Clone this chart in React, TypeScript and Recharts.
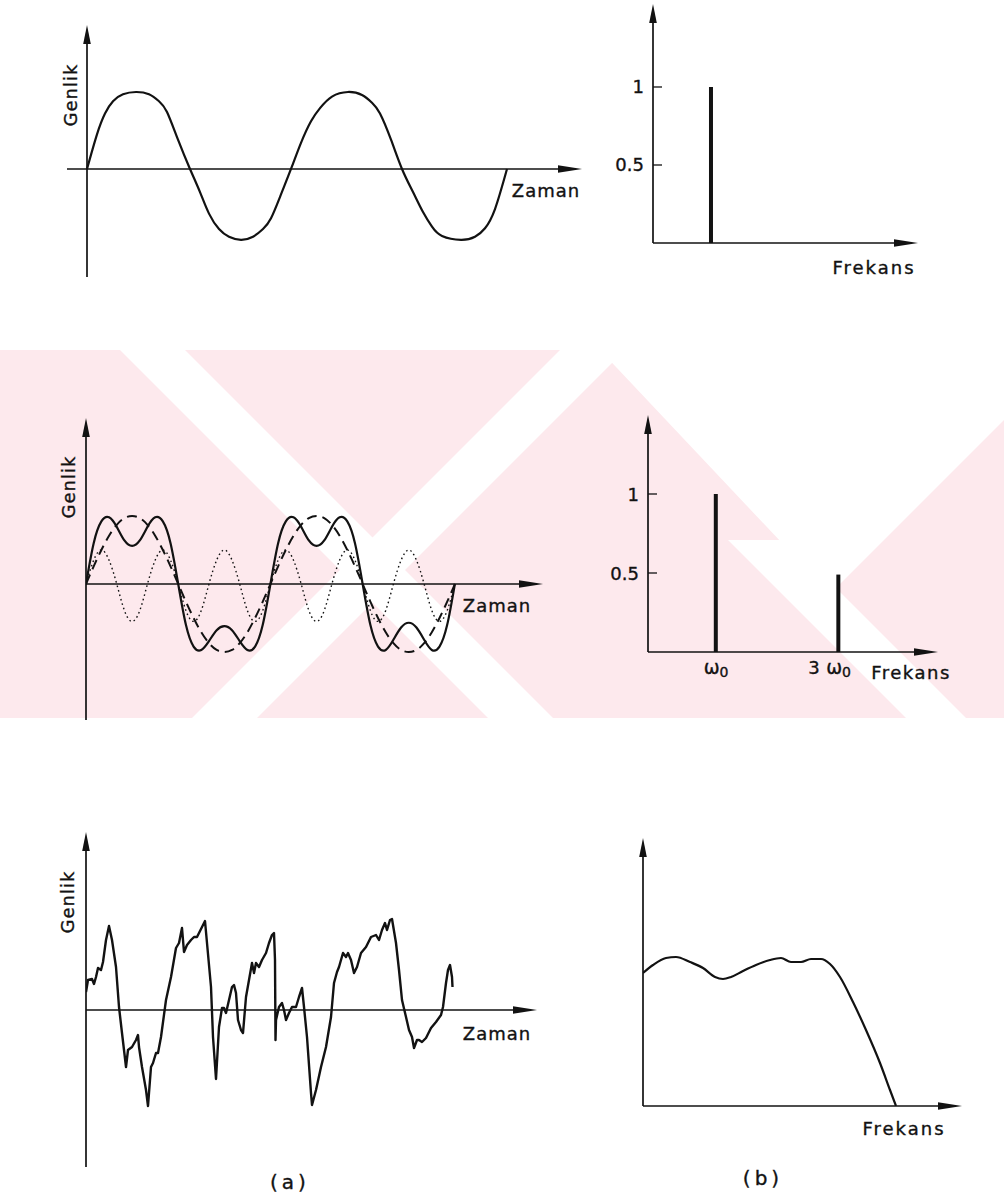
import React from "react";
import { ComposedChart, Line, Bar, XAxis, YAxis, ReferenceLine } from "recharts";

const INK = "#121212";
const FONT = "'DejaVu Sans', 'Liberation Sans', sans-serif";

// top left: a pure sine, time in drawing units, amplitude relative to the peak
const sineTime = [0, 10, 18, 26, 36, 49, 62, 72, 80, 91, 103, 113, 122, 132, 142, 154, 166, 176, 184, 194, 204, 214, 224, 233, 245, 261, 275, 285, 293, 304, 315, 326, 336, 345, 355, 374, 388, 398, 408, 420];
const sineAmp = [0, 0.45, 0.72, 0.88, 0.97, 1.0, 0.97, 0.88, 0.74, 0.38, 0, -0.3, -0.58, -0.78, -0.88, -0.92, -0.88, -0.78, -0.64, -0.33, 0, 0.34, 0.62, 0.79, 0.94, 1.0, 0.96, 0.86, 0.72, 0.38, 0, -0.3, -0.56, -0.75, -0.87, -0.92, -0.88, -0.77, -0.52, 0];

// middle left: phase of the fundamental in degrees
const phaseDeg = [0, 15, 30, 45, 60, 75, 90, 105, 120, 135, 150, 165, 180, 195, 210, 225, 240, 255, 270, 285, 300, 315, 330, 345, 360, 375, 390, 405, 420, 435, 450, 465, 480, 495, 510, 525, 540, 555, 570, 585, 600, 615, 630, 645, 660, 675, 690, 705, 720];
const sumWave = [0, 0.6, 0.92, 0.98, 0.84, 0.64, 0.56, 0.64, 0.84, 0.98, 0.92, 0.6, 0, -0.6, -0.92, -0.97, -0.84, -0.68, -0.62, -0.68, -0.84, -0.97, -0.92, -0.6, 0, 0.6, 0.92, 0.98, 0.84, 0.64, 0.56, 0.64, 0.84, 0.98, 0.92, 0.6, 0, -0.6, -0.92, -0.97, -0.82, -0.64, -0.57, -0.64, -0.82, -0.97, -0.92, -0.6, 0];
const fundamental = [0, 0.26, 0.5, 0.71, 0.87, 0.97, 1, 0.97, 0.87, 0.71, 0.5, 0.26, 0, -0.26, -0.5, -0.71, -0.87, -0.97, -1, -0.97, -0.87, -0.71, -0.5, -0.26, 0, 0.26, 0.5, 0.71, 0.87, 0.97, 1, 0.97, 0.87, 0.71, 0.5, 0.26, 0, -0.26, -0.5, -0.71, -0.87, -0.97, -1, -0.97, -0.87, -0.71, -0.5, -0.26, 0];
const thirdHarmonic = [0, 0.35, 0.5, 0.35, 0, -0.39, -0.55, -0.39, 0, 0.35, 0.5, 0.35, 0, -0.39, -0.55, -0.39, 0, 0.35, 0.5, 0.35, 0, -0.39, -0.55, -0.39, 0, 0.35, 0.5, 0.35, 0, -0.39, -0.55, -0.39, 0, 0.35, 0.5, 0.35, 0, -0.39, -0.55, -0.39, 0, 0.35, 0.5, 0.35, 0, -0.39, -0.55, -0.39, 0];

// bottom left: irregular signal
const noiseTime = [
  0, 2, 6, 8, 10, 12, 15, 17, 20, 23,
  26, 30, 33, 36, 40, 42, 46, 50, 52, 53,
  56, 60, 62, 65, 67, 70, 72, 75, 80, 85,
  90, 93, 96, 98, 101, 105, 108, 111, 116, 119,
  121, 125, 127, 130, 133, 136, 138, 140, 143, 146,
  148, 150, 152, 155, 157, 160, 163, 166, 168, 170,
  173, 176, 180, 183, 186, 188, 189, 189.5, 190, 193,
  196, 198, 200, 203, 206, 210, 213, 216, 218, 221,
  225, 226, 230, 235, 240, 245, 248, 251, 253, 257,
  260, 262, 265, 268, 271, 275, 280, 285, 290, 293,
  296, 299, 301, 304, 306, 310, 313, 316, 320, 323,
  326, 328, 331, 333, 336, 340, 345, 350, 355, 357,
  360, 362, 364, 366, 366.5,
];
const noiseAmp = [
  18, 30, 31, 26, 33, 42, 40, 48, 70, 84,
  70, 43, 3, -23, -57, -40, -37, -30, -25, -37,
  -57, -80, -96, -57, -53, -43, -43, -27, 10, 33,
  62, 67, 82, 58, 65, 70, 73, 73, 83, 89,
  67, 23, -27, -69, -17, 2, 2, -3, 10, 23,
  25, 17, -10, -20, -23, 13, 30, 47, 37, 47,
  43, 50, 57, 67, 75, 77, 50, -30, -10, 3,
  7, 0, -10, -3, 3, 3, 13, 22, 3, -27,
  -83, -95, -80, -57, -37, -7, 27, 38, 43, 57,
  53, 57, 50, 37, 43, 57, 63, 73, 75, 70,
  80, 87, 80, 90, 91, 67, 40, 10, -7, -20,
  -27, -38, -30, -30, -32, -28, -18, -12, -5, 3,
  27, 40, 45, 33, 23,
];

// spectra, frequency in units of the fundamental
const pureFreq = [1];
const pureAmp = [1];
const harmFreq = [1, 2.8];
const harmAmp = [1, 0.49];
const harmPrefix = ["", "3"];
const ampTicks = [0.5, 1];
const ampTickLabels = ["0.5", "1"];

// bottom right: continuous spectrum
const contFreq = [0, 10, 23, 33, 47, 60, 72, 80, 88, 100, 113, 127, 138, 148, 158, 168, 178, 187, 197, 210, 223, 237, 247, 253];
const contLevel = [133, 141, 148, 149, 144, 138, 129, 127, 129, 135, 141, 146, 148, 144, 144, 147, 147, 142, 129, 104, 76, 43, 16, 0];

const sineRows = sineTime.map((t, i) => ({ t, a: sineAmp[i] }));
const harmRows = phaseDeg.map((t, i) => ({ t, sum: sumWave[i], f1: fundamental[i], f3: thirdHarmonic[i] }));
const noiseRows = noiseTime.map((t, i) => ({ t, a: noiseAmp[i] }));
const pureRows = pureFreq.map((f, i) => ({ f, a: pureAmp[i] }));
const harmSpecRows = harmFreq.map((f, i) => ({ f, a: harmAmp[i] }));
const contRows = contFreq.map((f, i) => ({ f, a: contLevel[i] }));

const AxisArrow = (p: any) => {
  const { x1, y1, x2, y2 } = p;
  const horiz = Math.abs(x2 - x1) > Math.abs(y2 - y1);
  if (horiz) {
    const a = Math.min(x1, x2);
    const b = Math.max(x1, x2);
    const y = y1;
    return (
      <g>
        <line x1={a} y1={y} x2={b - 10} y2={y} stroke={INK} strokeWidth={1.7} />
        <polygon points={`${b},${y} ${b - 24},${y - 3.8} ${b - 24},${y + 3.8}`} fill={INK} />
      </g>
    );
  }
  const top = Math.min(y1, y2);
  const bot = Math.max(y1, y2);
  const x = x1;
  return (
    <g>
      <line x1={x} y1={bot} x2={x} y2={top + 8} stroke={INK} strokeWidth={1.7} />
      <polygon points={`${x},${top} ${x - 3.8},${top + 19} ${x + 3.8},${top + 19}`} fill={INK} />
    </g>
  );
};

const AmpTick = (p: any) => {
  const { x, y, payload } = p;
  const label = ampTickLabels[ampTicks.indexOf(payload.value)];
  return (
    <g>
      <line x1={x} x2={x + 9} y1={y} y2={y} stroke={INK} strokeWidth={1.3} />
      <text x={x - 9} y={y} textAnchor="end" dominantBaseline="central" fontFamily={FONT} fontSize={18} fill={INK} stroke={INK} strokeWidth={0.35}>
        {label}
      </text>
    </g>
  );
};

const OmegaTick = (p: any) => {
  const { x, y, payload } = p;
  const prefix = harmPrefix[harmFreq.indexOf(payload.value)];
  return (
    <g fontFamily={FONT} fill={INK} stroke={INK} strokeWidth={0.35}>
      {prefix ? (
        <text x={x - 19} y={y + 22} textAnchor="end" fontSize={18}>
          {prefix}
        </text>
      ) : null}
      <text x={x} y={y + 22} textAnchor="middle" fontSize={19}>
        ω<tspan fontSize={14} dy={3}>0</tspan>
      </text>
    </g>
  );
};

// margins around plot areas (time panels) and spectra (room for axis ticks)
const m = { top: 14, right: 14, bottom: 14, left: 14 };
const mSpec = { top: 14, right: 14, bottom: 4, left: 12 };
const Y_W = 40;
const X_H = 30;

function Place({ x, y, dx, dy, children }: { x: number; y: number; dx: number; dy: number; children: React.ReactNode }) {
  return <div style={{ position: "absolute", left: x - dx, top: y - dy }}>{children}</div>;
}

function Label({ x, y, text, rotate, spacing = 1, size = 18 }: any) {
  return (
    <text
      x={x}
      y={y}
      textAnchor="middle"
      dominantBaseline="central"
      fontFamily={FONT}
      fontSize={size}
      letterSpacing={spacing}
      fill={INK}
      stroke={INK}
      strokeWidth={0.35}
      transform={rotate ? `rotate(-90 ${x} ${y})` : undefined}
    >
      {text}
    </text>
  );
}

function Watermark() {
  const pink = "#fde9ed";
  return (
    <svg width={1004} height={1199} style={{ position: "absolute", left: 0, top: 0 }}>
      <defs>
        <clipPath id="band">
          <rect x={0} y={350} width={1004} height={368} />
        </clipPath>
      </defs>
      <g clipPath="url(#band)">
        <rect x={0} y={350} width={1004} height={368} fill={pink} />
        <polygon points="120,350 185,350 553,718 488,718" fill="#fff" />
        <polygon points="560,350 625,350 257,718 192,718" fill="#fff" />
        <polygon points="600,350 1004,350 1004,420 830,594" fill="#fff" />
        <polygon points="728,540 788,540 966,718 906,718" fill="#fff" />
      </g>
    </svg>
  );
}

export default function App() {
  return (
    <div style={{ position: "absolute", left: 0, top: 0, width: 1004, height: 1199, background: "#fff", overflow: "hidden" }}>
      <Watermark />

      {/* top left: sine */}
      <Place x={67} y={25} dx={m.left} dy={m.top}>
        <ComposedChart width={515 + 28} height={252 + 28} data={sineRows} margin={m}>
          <XAxis type="number" dataKey="t" domain={[-20, 495]} hide allowDataOverflow />
          <YAxis type="number" domain={[-1.403, 1.87]} hide allowDataOverflow />
          <ReferenceLine segment={[{ x: -20, y: 0 }, { x: 495, y: 0 }]} ifOverflow="visible" shape={AxisArrow} />
          <ReferenceLine segment={[{ x: 0, y: -1.403 }, { x: 0, y: 1.87 }]} ifOverflow="visible" shape={AxisArrow} />
          <Line type="natural" dataKey="a" stroke={INK} strokeWidth={2.2} dot={false} activeDot={false} isAnimationActive={false} />
        </ComposedChart>
      </Place>

      {/* top right: single line spectrum */}
      <Place x={653} y={4} dx={mSpec.left + Y_W} dy={mSpec.top}>
        <ComposedChart width={265 + mSpec.left + Y_W + mSpec.right} height={239 + mSpec.top + X_H + mSpec.bottom} data={pureRows} margin={{ ...mSpec, bottom: mSpec.bottom + X_H }}>
          <XAxis type="number" dataKey="f" domain={[0, 4.57]} hide allowDataOverflow />
          <YAxis type="number" domain={[0, 1.532]} ticks={ampTicks} width={Y_W} axisLine={false} tickLine={false} tickSize={0} tickMargin={0} tick={AmpTick} interval={0} allowDataOverflow />
          <ReferenceLine segment={[{ x: 0, y: 0 }, { x: 4.57, y: 0 }]} ifOverflow="visible" shape={AxisArrow} />
          <ReferenceLine segment={[{ x: 0, y: 0 }, { x: 0, y: 1.532 }]} ifOverflow="visible" shape={AxisArrow} />
          <Bar dataKey="a" fill={INK} barSize={4} isAnimationActive={false} />
        </ComposedChart>
      </Place>

      {/* middle left: fundamental, third harmonic and their sum */}
      <Place x={86} y={418} dx={m.left} dy={m.top}>
        <ComposedChart width={457 + 28} height={302 + 28} data={harmRows} margin={m}>
          <XAxis type="number" dataKey="t" domain={[0, 892]} hide allowDataOverflow />
          <YAxis type="number" domain={[-2.0, 2.441]} hide allowDataOverflow />
          <ReferenceLine segment={[{ x: 0, y: 0 }, { x: 892, y: 0 }]} ifOverflow="visible" shape={AxisArrow} />
          <ReferenceLine segment={[{ x: 0, y: -2.0 }, { x: 0, y: 2.441 }]} ifOverflow="visible" shape={AxisArrow} />
          <Line type="natural" dataKey="f3" stroke={INK} strokeWidth={1.4} strokeDasharray="1.6 3" dot={false} activeDot={false} isAnimationActive={false} />
          <Line type="natural" dataKey="f1" stroke={INK} strokeWidth={2} strokeDasharray="10 6" dot={false} activeDot={false} isAnimationActive={false} />
          <Line type="natural" dataKey="sum" stroke={INK} strokeWidth={2.2} dot={false} activeDot={false} isAnimationActive={false} />
        </ComposedChart>
      </Place>

      {/* middle right: two line spectrum */}
      <Place x={648} y={415} dx={mSpec.left + Y_W} dy={mSpec.top}>
        <ComposedChart width={290 + mSpec.left + Y_W + mSpec.right} height={237 + mSpec.top + X_H + mSpec.bottom} data={harmSpecRows} margin={mSpec}>
          <XAxis type="number" dataKey="f" domain={[0, 4.26]} ticks={harmFreq} height={X_H} axisLine={false} tickLine={false} tickSize={0} tickMargin={0} tick={OmegaTick} interval={0} allowDataOverflow />
          <YAxis type="number" domain={[0, 1.5]} ticks={ampTicks} width={Y_W} axisLine={false} tickLine={false} tickSize={0} tickMargin={0} tick={AmpTick} interval={0} allowDataOverflow />
          <ReferenceLine segment={[{ x: 0, y: 0 }, { x: 4.26, y: 0 }]} ifOverflow="visible" shape={AxisArrow} />
          <ReferenceLine segment={[{ x: 0, y: 0 }, { x: 0, y: 1.5 }]} ifOverflow="visible" shape={AxisArrow} />
          <Bar dataKey="a" fill={INK} barSize={4} isAnimationActive={false} />
        </ComposedChart>
      </Place>

      {/* bottom left: irregular signal */}
      <Place x={86} y={832} dx={m.left} dy={m.top}>
        <ComposedChart width={451 + 28} height={335 + 28} data={noiseRows} margin={m}>
          <XAxis type="number" dataKey="t" domain={[0, 451]} hide allowDataOverflow />
          <YAxis type="number" domain={[-157, 178]} hide allowDataOverflow />
          <ReferenceLine segment={[{ x: 0, y: 0 }, { x: 451, y: 0 }]} ifOverflow="visible" shape={AxisArrow} />
          <ReferenceLine segment={[{ x: 0, y: -157 }, { x: 0, y: 178 }]} ifOverflow="visible" shape={AxisArrow} />
          <Line type="linear" dataKey="a" stroke={INK} strokeWidth={2.4} strokeLinejoin="round" dot={false} activeDot={false} isAnimationActive={false} />
        </ComposedChart>
      </Place>

      {/* bottom right: continuous spectrum */}
      <Place x={643} y={838} dx={m.left} dy={m.top}>
        <ComposedChart width={319 + 28} height={268 + 28} data={contRows} margin={m}>
          <XAxis type="number" dataKey="f" domain={[0, 319]} hide allowDataOverflow />
          <YAxis type="number" domain={[0, 268]} hide allowDataOverflow />
          <ReferenceLine segment={[{ x: 0, y: 0 }, { x: 319, y: 0 }]} ifOverflow="visible" shape={AxisArrow} />
          <ReferenceLine segment={[{ x: 0, y: 0 }, { x: 0, y: 268 }]} ifOverflow="visible" shape={AxisArrow} />
          <Line type="monotone" dataKey="a" stroke={INK} strokeWidth={2.2} dot={false} activeDot={false} isAnimationActive={false} />
        </ComposedChart>
      </Place>

      <svg width={1004} height={1199} style={{ position: "absolute", left: 0, top: 0, pointerEvents: "none" }}>
        <Label x={70} y={95} text="Genlik" rotate />
        <Label x={68} y={487} text="Genlik" rotate />
        <Label x={67} y={902} text="Genlik" rotate />
        <Label x={546} y={190} text="Zaman" />
        <Label x={497} y={605} text="Zaman" />
        <Label x={497} y={1033} text="Zaman" />
        <Label x={874} y={267} text="Frekans" spacing={2} />
        <Label x={911} y={672} text="Frekans" spacing={1.5} />
        <Label x={904} y={1128} text="Frekans" spacing={2} />
        <Label x={290} y={1182} text="(a)" spacing={4} size={20} />
        <Label x={763} y={1178} text="(b)" spacing={4} size={20} />
      </svg>
    </div>
  );
}
